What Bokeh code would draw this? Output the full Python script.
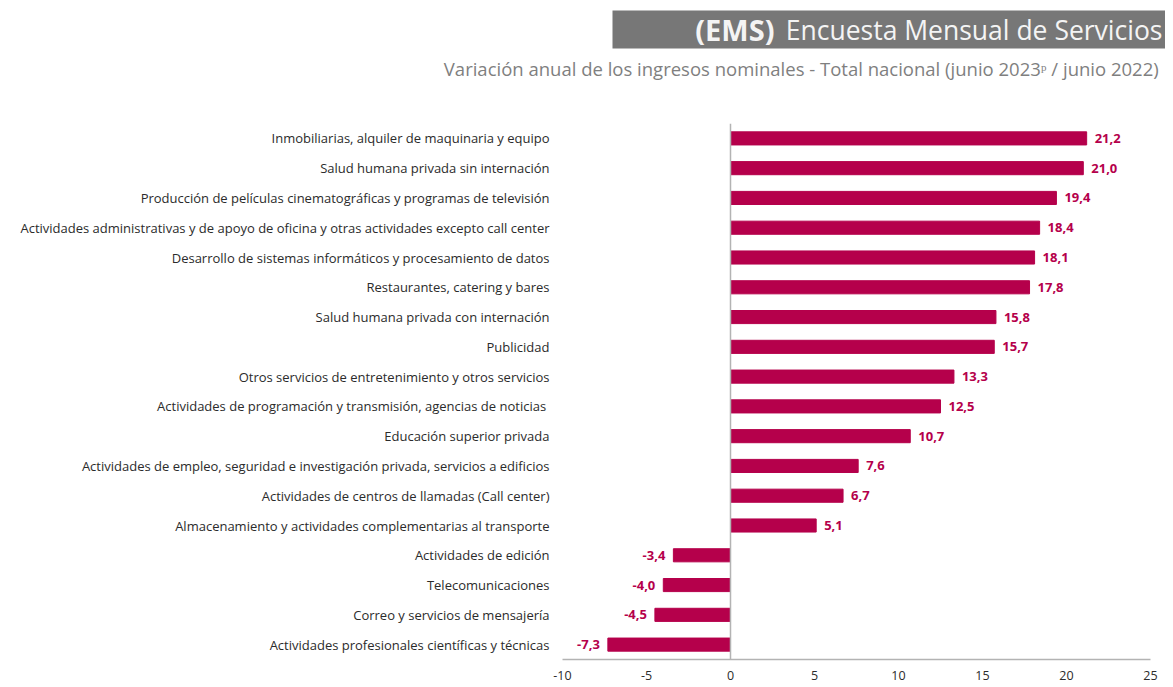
from bokeh.plotting import figure
from bokeh.layouts import column
from bokeh.models import ColumnDataSource, Span, FactorRange, Range1d, FixedTicker
from bokeh.embed import file_html
from bokeh.resources import INLINE
from bokeh.core.properties import value

categories = [
    "Inmobiliarias, alquiler de maquinaria y equipo",
    "Salud humana privada sin internación",
    "Producción de películas cinematográficas y programas de televisión",
    "Actividades administrativas y de apoyo de oficina y otras actividades excepto call center",
    "Desarrollo de sistemas informáticos y procesamiento de datos",
    "Restaurantes, catering y bares",
    "Salud humana privada con internación",
    "Publicidad",
    "Otros servicios de entretenimiento y otros servicios",
    "Actividades de programación y transmisión,  agencias de noticias",
    "Educación superior privada",
    "Actividades de empleo, seguridad e investigación privada, servicios a edificios",
    "Actividades de centros de llamadas (Call center)",
    "Almacenamiento y actividades complementarias al transporte",
    "Actividades de edición",
    "Telecomunicaciones",
    "Correo y servicios de mensajería",
    "Actividades profesionales científicas y técnicas",
]
values = [21.2, 21.0, 19.4, 18.4, 18.1, 17.8, 15.8, 15.7, 13.3, 12.5, 10.7, 7.6, 6.7, 5.1, -3.4, -4.0, -4.5, -7.3]
x_ticks = [-10, -5, 0, 5, 10, 15, 20, 25]
x_tick_labels = ["-10", "-5", "0", "5", "10", "15", "20", "25"]

title_bold = "(EMS)"
title_rest = "Encuesta Mensual de Servicios"
subtitle = "Variación anual de los ingresos nominales - Total nacional  (junio 2023ᵖ / junio 2022)"

BAR = "#B5004B"
FONT = "Open Sans"
W = 1165
HEAD_H = 123

# ---------------- header (title banner + subtitle) ----------------
h = figure(width=W, height=HEAD_H, x_range=Range1d(0, W), y_range=Range1d(HEAD_H, 0),
           x_axis_location=None, y_axis_location=None, min_border=0,
           output_backend="svg", toolbar_location=None)
h.frame_align = False
h.outline_line_color = None
h.grid.visible = False
h.background_fill_color = "white"
h.border_fill_color = "white"
h.quad(left=[612], right=[W], top=[10], bottom=[48], color="#777777", line_color=None)
h.text(x=[W - 3], y=[29], text=[title_rest], text_align="right", text_baseline="middle",
       text_font=value(FONT), text_font_size="26.5px", text_color="#f4f4f4")
h.text(x=[W - 3 - 388], y=[29], text=[title_bold], text_align="right", text_baseline="middle",
       text_font=value(FONT), text_font_size="29px", text_font_style="bold", text_color="#f4f4f4")
h.text(x=[W - 2], y=[68], text=[subtitle], text_align="right", text_baseline="middle",
       text_font=value(FONT), text_font_size="18.5px", text_color="#7f7f7f")

# ---------------- main bar chart ----------------
labels = [f"{v:.1f}".replace(".", ",") for v in values]
aligns = ["left" if v >= 0 else "right" for v in values]
offs = [8 if v >= 0 else -8 for v in values]
src = ColumnDataSource(dict(cat=categories, val=values, lbl=labels, align=aligns, off=offs))

p = figure(
    y_range=FactorRange(*reversed(categories)),
    x_range=Range1d(-10, 25),
    frame_width=588, frame_height=536,
    min_border_left=562, min_border_right=W - 562 - 588, min_border_top=0, min_border_bottom=24,
    output_backend="svg", toolbar_location=None,
)
p.frame_align = False
p.outline_line_color = None
p.grid.visible = False
p.background_fill_color = "white"
p.border_fill_color = "white"

p.hbar(y="cat", left=0, right="val", height=0.44, color=BAR, source=src)
p.text(x="val", y="cat", text="lbl", x_offset="off", text_align="align", text_baseline="middle",
       text_font=value(FONT), text_font_size="13px", text_font_style="bold", text_color=BAR, source=src)

p.add_layout(Span(location=0, dimension="height", line_color="#b3b3b3", line_width=1.5))

ya = p.yaxis[0]
ya.axis_line_color = None
ya.major_tick_line_color = None
ya.minor_tick_line_color = None
ya.major_label_standoff = 7
ya.major_label_text_font = FONT
ya.major_label_text_font_size = "13px"
ya.major_label_text_color = "#2b2b2b"

xa = p.xaxis[0]
xa.ticker = FixedTicker(ticks=x_ticks)
xa.major_label_overrides = dict(zip(x_ticks, x_tick_labels))
xa.axis_line_color = "#b3b3b3"
xa.axis_line_width = 1.5
xa.major_tick_line_color = None
xa.minor_tick_line_color = None
xa.major_label_standoff = 5
xa.major_label_text_font = FONT
xa.major_label_text_font_size = "12.5px"
xa.major_label_text_color = "#2b2b2b"

layout = column(h, p, spacing=0)
open("out.html", "w").write(file_html(layout, INLINE))
